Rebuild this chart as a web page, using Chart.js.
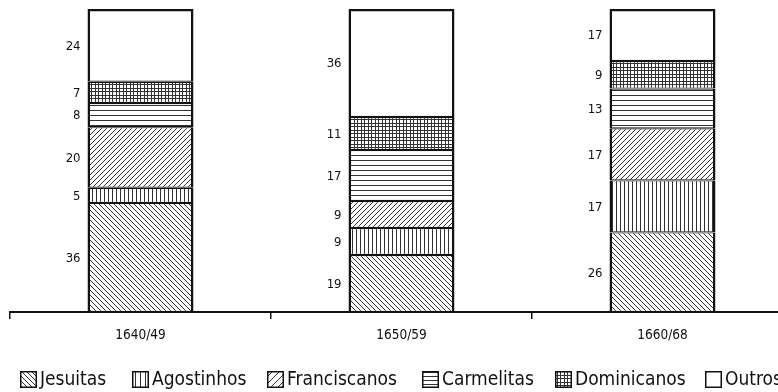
<!DOCTYPE html>
<html>
<head>
<meta charset="utf-8">
<script src="https://cdn.jsdelivr.net/npm/chart.js@4.4.1/dist/chart.umd.min.js"></script>
<style>
  html, body { margin: 0; padding: 0; background: #fff; overflow: hidden; }
  #wrap { width: 800px; height: 392px; }
</style>
</head>
<body>
<div id="wrap"><canvas id="chart"></canvas></div>
<script>
const categories = ["1640/49", "1650/59", "1660/68"];
const orders = ["Jesuitas", "Agostinhos", "Franciscanos", "Carmelitas", "Dominicanos", "Outros"];

const jesuitas = [36, 19, 26];
const agostinhos = [5, 9, 17];
const franciscanos = [20, 9, 17];
const carmelitas = [8, 17, 13];
const dominicanos = [7, 11, 9];
const outros = [24, 36, 17];

const seriesValues = [jesuitas, agostinhos, franciscanos, carmelitas, dominicanos, outros];
const hatchKinds = ["back", "vert", "fwd", "horiz", "grid", "none"];

const FONT = "'DejaVu Sans Condensed', 'Liberation Sans Narrow', sans-serif";

// each bar is drawn as a share of its own total (the book prints them all full height)
const totals = categories.map((_, i) => seriesValues.reduce((s, arr) => s + arr[i], 0));

function makePattern(kind, s) {
  const c = document.createElement("canvas");
  c.width = s;
  c.height = s;
  const g = c.getContext("2d");
  g.fillStyle = "#fff";
  g.fillRect(0, 0, s, s);
  g.strokeStyle = "#333";
  g.lineWidth = 1;
  g.beginPath();
  if (kind === "back") {
    g.moveTo(-1, -1); g.lineTo(s + 1, s + 1);
    g.moveTo(-1, s - 1); g.lineTo(1, s + 1);
    g.moveTo(s - 1, -1); g.lineTo(s + 1, 1);
  } else if (kind === "fwd") {
    g.moveTo(-1, s + 1); g.lineTo(s + 1, -1);
    g.moveTo(-1, 1); g.lineTo(1, -1);
    g.moveTo(s - 1, s + 1); g.lineTo(s + 1, s - 1);
  } else if (kind === "vert") {
    g.moveTo(0.5, 0); g.lineTo(0.5, s);
  } else if (kind === "horiz") {
    g.moveTo(0, 0.5); g.lineTo(s, 0.5);
  } else if (kind === "grid") {
    g.moveTo(0.5, 0); g.lineTo(0.5, s);
    g.moveTo(4.5, 0); g.lineTo(4.5, s);
    g.moveTo(0, 0.5); g.lineTo(s, 0.5);
    g.moveTo(0, 4.5); g.lineTo(s, 4.5);
  }
  g.stroke();
  return g.createPattern(c, "repeat");
}

const tileSize = { back: 5, fwd: 5, vert: 4, horiz: 5, grid: 7, none: 4 };
const legendTile = { back: 5, fwd: 7, vert: 5, horiz: 4, grid: 7, none: 4 };

const datasets = orders.map((name, k) => ({
  label: name,
  data: seriesValues[k].map((v, i) => v / totals[i] * 100),
  raw: seriesValues[k],
  backgroundColor: makePattern(hatchKinds[k], tileSize[hatchKinds[k]]),
  borderColor: "#111",
  borderWidth: { left: 2.5, right: 2.5, top: k === orders.length - 1 ? 2.5 : 1.2, bottom: 1.2 },
  borderSkipped: false,
  categoryPercentage: 1,
  barPercentage: 0.406
}));

const valueLabels = {
  id: "valueLabels",
  afterDatasetsDraw(chart) {
    const ctx = chart.ctx;
    ctx.save();
    ctx.font = "13px " + FONT;
    ctx.fillStyle = "#111";
    ctx.textAlign = "right";
    ctx.textBaseline = "middle";
    chart.data.datasets.forEach((ds, k) => {
      chart.getDatasetMeta(k).data.forEach((bar, i) => {
        const x = bar.x - bar.width / 2 - 7;
        const y = (bar.y + bar.base) / 2 + 1;
        ctx.fillText(String(ds.raw[i]), x, y);
      });
    });
    ctx.restore();
  }
};

const hatchLegend = {
  id: "hatchLegend",
  afterDraw(chart, args, opts) {
    const ctx = chart.ctx;
    ctx.save();
    ctx.font = "19px " + FONT;
    ctx.textBaseline = "middle";
    ctx.textAlign = "left";
    orders.forEach((name, k) => {
      const x = opts.xs[k];
      const y = opts.y;
      const s = opts.box;
      ctx.fillStyle = makePattern(hatchKinds[k], legendTile[hatchKinds[k]]);
      ctx.fillRect(x, y, s, s);
      ctx.strokeStyle = "#111";
      ctx.lineWidth = 1.5;
      ctx.strokeRect(x + 0.75, y + 0.75, s - 1.5, s - 1.5);
      ctx.fillStyle = "#111";
      ctx.fillText(name, x + s + 3, y + s / 2 + 1);
    });
    ctx.restore();
  }
};

new Chart(document.getElementById("chart"), {
  type: "bar",
  data: { labels: categories, datasets: datasets },
  plugins: [valueLabels, hatchLegend],
  options: {
    responsive: true,
    maintainAspectRatio: false,
    animation: false,
    layout: { padding: { left: 10, right: 7, top: 9, bottom: 0 } },
    plugins: {
      legend: { display: false },
      tooltip: { enabled: false },
      hatchLegend: { xs: [20, 132, 267, 422, 555, 705], y: 371, box: 17 }
    },
    scales: {
      x: {
        stacked: true,
        afterFit: (scale) => { scale.height = 80; },
        grid: {
          display: true,
          offset: true,
          drawOnChartArea: false,
          drawTicks: true,
          tickLength: 7,
          color: "#111",
          lineWidth: 1.5
        },
        border: { display: true, color: "#111", width: 2 },
        ticks: {
          padding: 8,
          color: "#111",
          font: { family: FONT, size: 13.5 }
        }
      },
      y: {
        stacked: true,
        display: false,
        min: 0,
        max: 100
      }
    }
  }
});
</script>
</body>
</html>
